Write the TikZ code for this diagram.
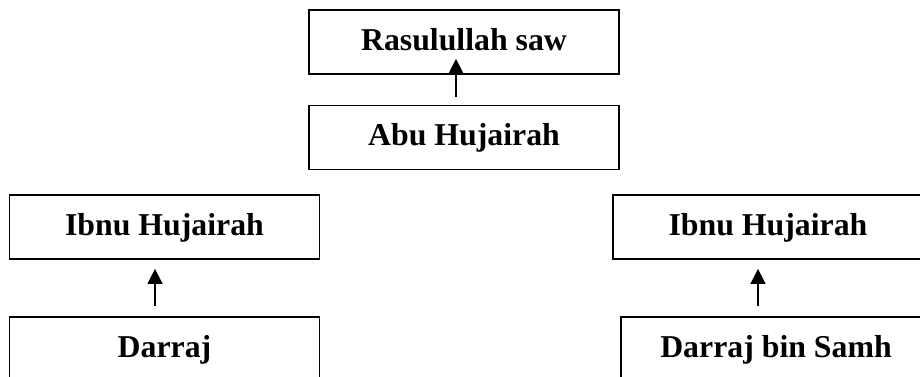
\documentclass[tikz,border=0pt]{standalone}
\usepackage{fontspec}
\setmainfont{Liberation Serif}
\usetikzlibrary{arrows.meta}
\begin{document}
\begin{tikzpicture}[x=1pt,y=-1pt,
  namebox/.style={draw, line width=1.8pt, minimum width=310pt, minimum height=64pt,
    inner sep=0pt, text height=22pt, text depth=6pt,
    font=\fontsize{31.8}{38}\selectfont\bfseries},
  arr/.style={line width=1.6pt, -{Triangle[length=15pt,width=15pt]}}]
\useasboundingbox (0,0) rectangle (920,376);
\node[namebox] (rasul) at (464,42) {Rasulullah saw};
\node[namebox] (abu) at (464,137.5) {Abu Hujairah};
\node[namebox] (ibnuL) at (164.5,227) {Ibnu Hujairah};
\node[namebox] (darrajL) at (164.5,349) {Darraj};
\node[namebox] (ibnuR) at (768,227) {Ibnu Hujairah};
\node[namebox] (darrajR) at (776,349) {Darraj bin Samh};
\draw[arr] ([xshift=-8pt,yshift=8pt]abu.north) -- ([xshift=-8pt,yshift=16pt]rasul.south);
\draw[arr] ([xshift=-9.5pt,yshift=10pt]darrajL.north) -- ([xshift=-9.5pt,yshift=-9pt]ibnuL.south);
\draw[arr] ([xshift=-10pt,yshift=10pt]ibnuR.south |- darrajR.north) -- ([xshift=-10pt,yshift=-9pt]ibnuR.south);
\end{tikzpicture}
\end{document}
